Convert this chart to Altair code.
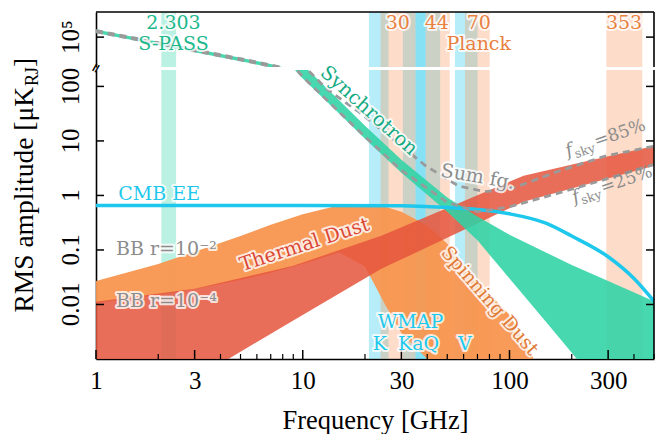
import math
import altair as alt
import pandas as pd

# ---------------- values ----------------
sync_freq = [1, 2, 3, 5, 7, 10, 15, 20, 30, 50, 70, 100, 150, 200, 300, 500]
sync_hi = [3.6e5, 4.6e4, 1.4e4, 3.0e3, 1.05e3, 250, 56, 19, 4.5, 0.92, 0.41, 0.19, 0.09, 0.053, 0.027, 0.0115]
sync_lo = [2.0e5, 2.6e4, 7.8e3, 1.7e3, 600, 140, 32, 11, 2.6, 0.5, 0.15, 0.03, 0.0048, 0.0013, 0.0002, 0.00002]

dust_freq = [1, 3, 9, 24, 50, 117, 250, 500]
dust_hi = [0.0112, 0.0194, 0.0514, 0.182, 0.59, 2.3, 4.45, 8.1]
dust_lo = [3.6e-5, 0.00043, 0.0051, 0.045, 0.167, 0.77, 1.7, 3.5]

spin_freq = [1, 2, 3, 5, 7, 10, 15, 20, 25, 30, 40, 50, 70, 100, 130]
spin_hi = [0.027, 0.055, 0.093, 0.18, 0.29, 0.45, 0.66, 0.70, 0.62, 0.5, 0.28, 0.13, 0.026, 0.0065, 0.0011]
spin_lo = [0.0105, 0.015, 0.019, 0.028, 0.038, 0.055, 0.09, 0.05, 0.01, 0.003, 0.001, 0.001, 0.001, 0.001, 0.001]

cmb_freq = [1, 10, 30, 50, 70, 100, 150, 200, 300, 400, 500]
cmb_ee = [0.655, 0.655, 0.65, 0.6, 0.55, 0.46, 0.31, 0.18, 0.075, 0.03, 0.0115]

bb_freq = [1, 10, 30, 50, 70, 100, 150, 200, 300, 400, 500]
bb_r2 = [0.069, 0.069, 0.069, 0.068, 0.066, 0.06, 0.038, 0.02, 0.0065, 0.0027, 0.0013]
bb_r4 = [0.0073, 0.0073, 0.0072, 0.007, 0.0066, 0.0055, 0.0033, 0.0017, 0.0005, 0.00018, 0.00007]

sum85_freq = [1, 2, 3, 5, 7, 10, 13, 18.7, 27.2, 39.3, 56.5, 76, 102, 170, 294, 500]
sum85_val = [3.1e5, 3.9e4, 1.2e4, 2.6e3, 900, 250, 91, 34, 11, 3.5, 1.5, 1.17, 1.33, 2.72, 5.35, 8.0]
sum25_freq = [1, 2, 3, 5, 7, 10, 15, 20, 30, 50, 70, 100, 150, 200, 300, 500]
sum25_val = [2.5e5, 3.2e4, 9.6e3, 2.1e3, 720, 150, 34, 12, 2.9, 0.75, 0.5, 0.62, 0.95, 1.3, 2.05, 3.7]

band_lo = [2.07, 20.9, 30.5, 35.1, 54.5, 23.8, 39.3, 60.9, 294]
band_hi = [2.44, 26.0, 39.3, 46.2, 70.1, 35.1, 51.4, 80.2, 439]
band_kind = ["S-PASS", "WMAP", "WMAP", "WMAP", "WMAP", "Planck", "Planck", "Planck", "Planck"]

x_labels = [1, 3, 10, 30, 100, 300]
x_minor = [2, 4, 5, 6, 7, 8, 9, 20, 40, 50, 60, 70, 80, 90, 200, 400, 500]
y_labels_lo = [0.01, 0.1, 1, 10, 100]
y_text_lo = ["0.01", "0.1", "1", "10", "100"]
y_labels_up = [1e5]
y_text_up = ["10⁵"]

# ---------------- styling / layout ----------------
W, H_UP, H_LO = 558, 55, 289
GREEN, GREEN_T, RED, ORANGE, ORANGE_T = "#2dd3a5", "#16ab83", "#e5553d", "#f8964f", "#e8803f"
CYAN, GRAY = "#1ec8ec", "#8c8c8c"
SERIF = "DejaVu Serif"
TIMES = "Liberation Serif"

xs = alt.Scale(type="log", domain=[1, 500], nice=False)
ys_lo = alt.Scale(type="log", domain=[0.001, 200], nice=False)
ys_up = alt.Scale(type="log", domain=[10 ** 2.8, 10 ** 6.85], nice=False)

x_axis = alt.Axis(values=x_labels, labelExpr="format(datum.value, 'd')", ticks=False, grid=False,
                  labelFont=TIMES, labelFontSize=25, labelPadding=9, labelColor="black",
                  labelFlush=False, labelOverlap=False, domainColor="black", domainWidth=1.6,
                  titleFont=TIMES, titleFontSize=26.5, titleFontWeight="normal",
                  titleColor="black", titlePadding=14)
y_axis = alt.Axis(labels=False, ticks=False, grid=False, domainColor="black", domainWidth=1.6)


def XL(f):
    return alt.X(f, type="quantitative", scale=xs, axis=x_axis, title="Frequency [GHz]")


def XU(f):
    return alt.X(f, type="quantitative", scale=xs, axis=None)


def YL(f):
    return alt.Y(f, type="quantitative", scale=ys_lo, axis=y_axis, title=None)


def YU(f):
    return alt.Y(f, type="quantitative", scale=ys_up, axis=y_axis, title=None)


sync_df = pd.DataFrame({"f": sync_freq, "hi": sync_hi, "lo": sync_lo})
dust_df = pd.DataFrame({"f": dust_freq, "hi": dust_hi, "lo": dust_lo})
spin_df = pd.DataFrame({"f": spin_freq, "hi": spin_hi, "lo": spin_lo})
cmb_df = pd.DataFrame({"f": cmb_freq, "v": cmb_ee})
bb2_df = pd.DataFrame({"f": bb_freq, "v": bb_r2})
bb4_df = pd.DataFrame({"f": bb_freq, "v": bb_r4})
s85_df = pd.DataFrame({"f": sum85_freq, "v": sum85_val})
s25_df = pd.DataFrame({"f": sum25_freq, "v": sum25_val})
band_df = pd.DataFrame({"lo": band_lo, "hi": band_hi, "kind": band_kind})
one = pd.DataFrame({"a": [0]})

band_color = alt.Color("kind:N", legend=None,
                       scale=alt.Scale(domain=["S-PASS", "WMAP", "Planck"],
                                       range=["#2dd3a5", "#1ec8ec", "#fa965a"]))


def bands(X):
    return alt.Chart(band_df).mark_rect(opacity=0.32).encode(x=X("lo"), x2="hi", color=band_color)


def sync_area(X, Y):
    return alt.Chart(sync_df).mark_area(color=GREEN, opacity=0.88, clip=True).encode(
        x=X("f"), y=Y("hi"), y2="lo")


def sum_lines(X, Y):
    return [alt.Chart(d).mark_line(color="#9a9a9a", strokeWidth=2.8, strokeDash=[7, 5], clip=True)
            .encode(x=X("f"), y=Y("v")) for d in (s85_df, s25_df)]


def grad(c0, mid, c1, off):
    return alt.Gradient(gradient="linear", x1=0, x2=0, y1=0, y2=1,
                        stops=[alt.GradientStop(color=c0, offset=0),
                               alt.GradientStop(color=mid, offset=off),
                               alt.GradientStop(color=c1, offset=1)])


def text_layers(df, X, Y, halo_w=4):
    base = alt.Chart(df).encode(x=X("f"), y=Y("v"), text="text:N",
                                angle=alt.Angle("angle:Q", scale=None),
                                size=alt.Size("size:Q", scale=None))
    halo = base.mark_text(font=SERIF, fill="white", stroke="white", strokeWidth=halo_w,
                          strokeOpacity=0.8, strokeJoin="round")
    txt = base.mark_text(font=SERIF).encode(color=alt.Color("color:N", scale=None))
    return [halo, txt]


# ---------- annotation texts ----------
up_text = pd.DataFrame([
    ("2.303", 2.37, 1.15e6, 0, "#20b88c", 19),
    ("S-PASS", 2.37, 3.1e4, 0, "#20b88c", 19),
    ("30", 28.8, 1.1e6, 0, ORANGE_T, 19),
    ("44", 44.5, 1.1e6, 0, ORANGE_T, 19),
    ("70", 71, 1.1e6, 0, ORANGE_T, 19),
    ("353", 358, 1.1e6, 0, ORANGE_T, 19),
    ("Planck", 71, 3.1e4, 0, ORANGE_T, 19),
], columns=["text", "f", "v", "angle", "color", "size"])

lo_text = pd.DataFrame([
    ("CMB EE", 2.02, 1.07, 0, CYAN, 19),
    ("BB r=10⁻²", 2.19, 0.105, 0, GRAY, 19),
    ("BB r=10⁻⁴", 2.19, 0.0117, 0, GRAY, 19),
    ("Thermal Dust", 10.2, 0.125, 342, "#dc4632", 19.5),
    ("Spinning Dust", 80.3, 0.0117, 49, "#e07a35", 19),
    ("Synchrotron", 20.9, 36, 42, GREEN_T, 19.5),
    ("Sum fg.", 70.3, 2.2, 10, GRAY, 19),
    ("WMAP", 33.2, 0.0048, 0, CYAN, 19),
    ("K", 23.6, 0.00188, 0, CYAN, 19),
    ("KaQ", 36.3, 0.00188, 0, CYAN, 19),
    ("V", 60.9, 0.00188, 0, CYAN, 19),
], columns=["text", "f", "v", "angle", "color", "size"])

fsky_df = pd.DataFrame({"f": [191.5, 206], "v": [5.1, 0.72], "rest": ["=85%", "=25%"]})


def polar(s, t, ang_deg):
    a = math.radians(ang_deg)
    ox = s * math.cos(a) - t * math.sin(a)
    oy = s * math.sin(a) + t * math.cos(a)
    return math.hypot(ox, oy), math.atan2(oy, ox) + math.pi / 2


FANG = -19
r1, t1 = polar(7.5, 4, FANG)
r2, t2 = polar(30, 0, FANG)
fbase = alt.Chart(fsky_df).encode(x=XL("f"), y=YL("v"))
fsky_layers = [
    fbase.mark_text(font=SERIF, fontSize=18, fontStyle="italic", align="left", baseline="alphabetic",
                    angle=360 + FANG, color=GRAY).encode(text=alt.value("f")),
    fbase.mark_text(font=SERIF, fontSize=12.5, align="left", baseline="alphabetic", angle=360 + FANG,
                    color=GRAY, radius=r1, theta=t1).encode(text=alt.value("sky")),
    fbase.mark_text(font=SERIF, fontSize=17.5, align="left", baseline="alphabetic", angle=360 + FANG,
                    color=GRAY, radius=r2, theta=t2).encode(text="rest:N"),
]

# ---------- ticks, tick labels & frame ----------
xt_major = pd.DataFrame({"f": x_labels})
xt_minor = pd.DataFrame({"f": x_minor})
yt_lo = pd.DataFrame({"v": y_labels_lo, "t": y_text_lo})
yt_up = pd.DataFrame({"v": y_labels_up, "t": y_text_up})


def yticks(df, Y):
    return [alt.Chart(df).mark_rule(color="black", strokeWidth=1.5).encode(
                y=Y("v"), x=alt.value(0), x2=alt.value(8)),
            alt.Chart(df).mark_rule(color="black", strokeWidth=1.5).encode(
                y=Y("v"), x=alt.value(W - 8), x2=alt.value(W)),
            alt.Chart(df).mark_text(font=TIMES, fontSize=25, angle=270, align="center",
                                    baseline="bottom", color="black").encode(
                y=Y("v"), x=alt.value(-12), text="t:N")]


frame_up = [
    alt.Chart(one).mark_rule(color="black", strokeWidth=1.6).encode(
        x=alt.value(0), x2=alt.value(W), y=alt.value(0)),
    alt.Chart(one).mark_rule(color="black", strokeWidth=1.6).encode(
        x=alt.value(W), y=alt.value(0), y2=alt.value(H_UP)),
]
frame_lo = [
    alt.Chart(one).mark_rule(color="black", strokeWidth=1.6).encode(
        x=alt.value(W), y=alt.value(0), y2=alt.value(H_LO)),
    alt.Chart(xt_major).mark_rule(color="black", strokeWidth=1.5).encode(
        x=XL("f"), y=alt.value(H_LO), y2=alt.value(H_LO - 9)),
    alt.Chart(xt_minor).mark_rule(color="black", strokeWidth=1.2).encode(
        x=XL("f"), y=alt.value(H_LO), y2=alt.value(H_LO - 5)),
    # axis-break marks
    alt.Chart(one).mark_text(font=SERIF, fontSize=13, fontWeight="bold", color="black", angle=300).encode(
        x=alt.value(0), y=alt.value(-2), text=alt.value("=")),
]

# y axis title (with subscript) as text
ytitle = [
    alt.Chart(one).mark_text(font=TIMES, fontSize=27.5, angle=270, align="right", baseline="alphabetic",
                             color="black").encode(x=alt.value(-63), y=alt.value(17),
                                                   text=alt.value("RMS amplitude [μK")),
    alt.Chart(one).mark_text(font=TIMES, fontSize=18, angle=270, align="left", baseline="alphabetic",
                             color="black").encode(x=alt.value(-58), y=alt.value(16),
                                                   text=alt.value("RJ")),
    alt.Chart(one).mark_text(font=TIMES, fontSize=27.5, angle=270, align="left", baseline="alphabetic",
                             color="black").encode(x=alt.value(-63), y=alt.value(-3),
                                                   text=alt.value("]")),
]

# ---------- lower panel ----------
bb2 = alt.Chart(bb2_df).mark_area(color=grad("#a2a2a2", "#f2f2f2", "#ffffff", 0.55), clip=True).encode(
    x=XL("f"), y=YL("v"), y2=alt.value(H_LO))
bb4 = alt.Chart(bb4_df).mark_area(color=grad("#9c9c9c", "#d6d6d6", "#f0f0f0", 0.6), clip=True).encode(
    x=XL("f"), y=YL("v"), y2=alt.value(H_LO))
spin = alt.Chart(spin_df).mark_area(color=ORANGE, opacity=0.95, clip=True).encode(
    x=XL("f"), y=YL("hi"), y2="lo")
dust = alt.Chart(dust_df).mark_area(color=RED, opacity=0.85, clip=True).encode(
    x=XL("f"), y=YL("hi"), y2="lo")
cmb = alt.Chart(cmb_df).mark_line(color=CYAN, strokeWidth=3.5, clip=True, interpolate="monotone").encode(
    x=XL("f"), y=YL("v"))

lower = alt.layer(
    bb2, bb4, bands(XL), spin, dust, sync_area(XL, YL), cmb, *sum_lines(XL, YL),
    *frame_lo, *yticks(yt_lo, YL), *text_layers(lo_text, XL, YL), *fsky_layers, *ytitle,
).properties(width=W, height=H_LO)

# ---------- upper panel ----------
upper = alt.layer(
    bands(XU), sync_area(XU, YU), *sum_lines(XU, YU), *frame_up, *yticks(yt_up, YU),
    *text_layers(up_text, XU, YU),
).properties(width=W, height=H_UP)

chart = alt.vconcat(upper, lower, spacing=3, bounds="flush").properties(
    padding={"left": 3, "top": 3, "right": 0, "bottom": 0}
).configure_view(stroke=None)

chart.save("out.html", embed_options={"renderer": "svg", "actions": False})
